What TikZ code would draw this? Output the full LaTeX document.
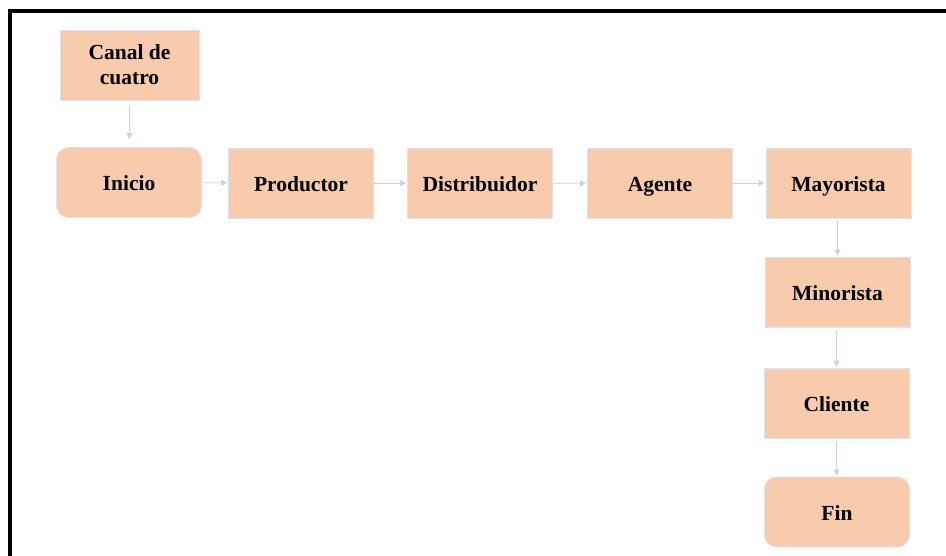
\documentclass[tikz,border=0pt]{standalone}
\usepackage{fontspec}
\setmainfont{Liberation Serif}
\usetikzlibrary{arrows.meta}
\definecolor{peach}{HTML}{F8CBAD}
\definecolor{edgeblue}{HTML}{DAE3F3}
\definecolor{arrowblue}{HTML}{C8D3E5}
\tikzset{
	basebox/.style={draw=edgeblue, line width=0.8pt, fill=peach, minimum width=145pt, minimum height=70pt, inner sep=0pt, align=center, font=\fontsize{21.5}{25}\selectfont\bfseries},
	stepbox/.style={basebox, text height=17.5pt, text depth=0.5pt},
	endbox/.style={stepbox, rounded corners=12pt},
	link/.style={draw=arrowblue, line width=0.9pt, -{Triangle[length=6pt,width=6pt]}},
}

\begin{document}
\begin{tikzpicture}[x=1pt, y=-1pt]
			%%%%% START %%%%%
			\useasboundingbox (0, 0) rectangle (946, 556);
			
			\draw[line width=4pt] (10.3, 556) -- (10.3, 11.5) -- (946, 11.5);
			
			\node[basebox, minimum width=139pt] (canal) at (129.5, 65) {Canal de\\cuatro};
			\node[endbox] (inicio) at (129, 182.5) {Inicio};
			\node[stepbox] (productor) at (301, 183) {Productor};
			\node[stepbox] (distribuidor) at (480, 183) {Distribuidor};
			\node[stepbox] (agente) at (660, 183.5) {Agente};
			\node[stepbox] (mayorista) at (838.5, 183) {Mayorista};
			\node[stepbox] (minorista) at (837.5, 292) {Minorista};
			\node[stepbox] (cliente) at (836.5, 403) {Cliente};
			\node[endbox] (fin) at (837, 512) {Fin};
			
			\draw[link, shorten <=5pt, shorten >=8pt] (canal) -- (canal |- inicio.north);
			\draw[link, shorten >=1pt] (inicio) -- (productor);
			\draw[link, shorten >=1pt] (productor) -- (distribuidor);
			\draw[link, shorten >=1pt] (distribuidor) -- (agente);
			\draw[link, shorten >=1pt] (agente.east |- mayorista) -- (mayorista);
			\draw[link, shorten <=2pt, shorten >=1pt] (minorista |- mayorista.south) -- (minorista);
			\draw[link, shorten <=3pt, shorten >=1pt] (cliente |- minorista.south) -- (cliente);
			\draw[link, shorten <=3pt, shorten >=1pt] (cliente) -- (cliente |- fin.north);
			
			%%%%% END %%%%%
		\end{tikzpicture}
\end{document}
